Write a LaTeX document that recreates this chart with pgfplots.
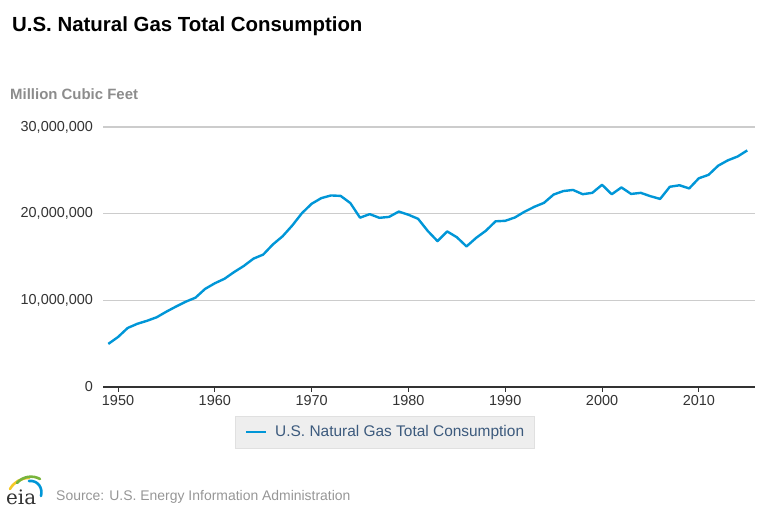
\documentclass[border=0pt]{standalone}
\usepackage{fontspec}
\setmainfont{Liberation Sans}
\newfontfamily\logofont{DejaVu Serif}
\usepackage{pgfplots}
\usepackage{pgfplotstable}
\pgfplotsset{compat=1.18}

\definecolor{gasblue}{RGB}{0,150,215}
\definecolor{gridgray}{RGB}{204,204,204}
\definecolor{ticktext}{RGB}{51,51,51}
\definecolor{unitgray}{RGB}{140,140,140}
\definecolor{legtext}{RGB}{60,90,125}
\definecolor{legfill}{RGB}{238,238,238}
\definecolor{legdraw}{RGB}{224,224,224}
\definecolor{srcgray}{RGB}{150,150,150}

% U.S. natural gas total consumption, million cubic feet
\pgfplotstableread{
year  mmcf
1949  4971152
1950  5766542
1951  6810162
1952  7294320
1953  7639270
1954  8048504
1955  8693657
1956  9288804
1957  9846124
1958  10302818
1959  11321163
1960  11966537
1961  12489268
1962  13266513
1963  13970229
1964  14813808
1965  15279717
1966  16452403
1967  17388387
1968  18632178
1969  20056240
1970  21139386
1971  21793454
1972  22101452
1973  22049363
1974  21223133
1975  19537593
1976  19946496
1977  19520581
1978  19627478
1979  20240761
1980  19877293
1981  19403858
1982  18001055
1983  16834912
1984  17950528
1985  17280991
1986  16221296
1987  17210809
1988  18030051
1989  19118563
1990  19173556
1991  19562067
1992  20228228
1993  20789842
1994  21247093
1995  22207050
1996  22609178
1997  22737406
1998  22245833
1999  22405111
2000  23333121
2001  22238624
2002  23027037
2003  22276502
2004  22402546
2005  22014434
2006  21699071
2007  23103793
2008  23277008
2009  22910078
2010  24086797
2011  24477425
2012  25538487
2013  26155185
2014  26593164
2015  27300000
}\gasdata

\begin{document}
\begin{tikzpicture}
\path[use as bounding box] (0bp,0bp) rectangle (768bp,512bp);

% title and unit label
\node[anchor=base west, inner sep=0, font=\bfseries\fontsize{20.5}{24}\selectfont]
  at (12bp,480bp) {U.S. Natural Gas Total Consumption};
\node[anchor=base west, inner sep=0, text=unitgray, font=\bfseries\fontsize{15}{18}\selectfont]
  at (10bp,412bp) {Million Cubic Feet};

\begin{axis}[
  at={(103bp,125bp)}, anchor=south west,
  scale only axis,
  width=652bp, height=260bp,
  xmin=1948.45, xmax=2015.8,
  ymin=0, ymax=30000000,
  axis x line*=bottom,
  axis y line*=left,
  y axis line style={draw=none},
  x axis line style={draw=ticktext, line width=1.3bp},
  xtick={1950,1960,1970,1980,1990,2000,2010},
  ytick={0,10000000,20000000,30000000},
  scaled y ticks=false,
  ymajorgrids,
  grid style={draw=gridgray, line width=1.1bp},
  tick align=outside,
  major tick length=5bp,
  xtick style={draw=ticktext, line width=1bp},
  ytick style={draw=none},
  tick label style={text=ticktext, font=\fontsize{14.5}{16}\selectfont},
  /pgf/number format/assume math mode=true,
  xticklabel style={/pgf/number format/set thousands separator={}},
  yticklabel style={/pgf/number format/fixed, /pgf/number format/1000 sep={,}, xshift=-1.5bp},
  legend style={
    at={(0.4317,-0.1115)}, anchor=north,
    draw=legdraw, fill=legfill,
    inner xsep=10bp, inner ysep=9.5bp,
    nodes={inner sep=0bp, text=legtext},
    font=\fontsize{15.5}{18}\selectfont,
  },
  legend image code/.code={
    \draw[#1] (0bp,0bp) -- (20bp,0bp);
    \path (28bp,0bp);
  },
]
\addplot[gasblue, line width=2.4bp, line join=round] table[x=year, y=mmcf] {\gasdata};
\addlegendentry{U.S. Natural Gas Total Consumption\hspace{9bp}}
\end{axis}

% source line and logo
\node[anchor=base west, inner sep=0, text=srcgray, font=\fontsize{14}{17}\selectfont]
  at (56bp,12bp) {Source: U.S. Energy Information Administration};
\node[anchor=base west, inner sep=0, text=ticktext, font=\logofont\fontsize{20}{24}\selectfont]
  at (6bp,8bp) {eia};
\draw[line width=2.6bp, color={rgb,255:red,245;green,200;blue,40}, line cap=round]
  (10bp,23bp) .. controls (14bp,30bp) and (21bp,34bp) .. (29bp,34bp);
\draw[line width=2.6bp, color={rgb,255:red,120;green,180;blue,60}, line cap=round]
  (17bp,29bp) .. controls (23bp,36bp) and (33bp,37bp) .. (40bp,33bp);
\draw[line width=2.6bp, color=gasblue, line cap=round]
  (29bp,31bp) .. controls (38bp,32bp) and (43bp,24bp) .. (41bp,16bp);
\end{tikzpicture}
\end{document}
